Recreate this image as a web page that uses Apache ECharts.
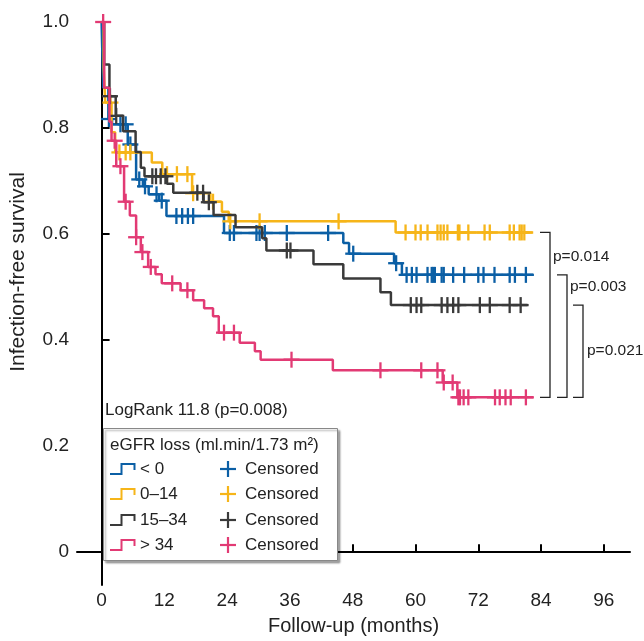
<!DOCTYPE html>
<html>
<head>
<meta charset="utf-8">
<script src="https://cdn.jsdelivr.net/npm/echarts@6/dist/echarts.min.js"></script>
<style>
html, body { margin: 0; padding: 0; background: #fff; }
#chart { width: 644px; height: 641px; }
</style>
</head>
<body>
<div id="chart"></div>
<script>
// axis ticks
var xTicks = [0, 12, 24, 36, 48, 60, 72, 84, 96];
var yTicks = [0, 0.2, 0.4, 0.6, 0.8, 1.0];

// eGFR loss groups
var groupNames = ['< 0', '0–14', '15–34', '> 34'];

// < 0
var blueTimes = [0, 0.3, 1.3, 2.0, 5.0, 6.6, 7.9, 9.0, 11.0, 12.4, 23.4, 46.2, 47.3, 55.9, 57.4, 82.5];
var blueSurv = [1.0, 0.876, 0.817, 0.807, 0.769, 0.703, 0.69, 0.675, 0.663, 0.634, 0.602, 0.583, 0.563, 0.545, 0.523, 0.523];
var blueCens = [1.4, 3.6, 4.6, 5.5, 7.2, 8.3, 10.5, 11.5, 14.3, 15.4, 16.5, 17.5, 24.5, 25.3, 29.6, 30.2, 31.2, 35.4, 43.3, 48.1, 56.3,
    58.3, 59.3, 60.2, 62.3, 63.1, 63.4, 63.7, 65.0, 65.4, 67.2, 69.3, 72.0, 73.0, 75.1, 78.0, 79.0, 81.1];

// 0-14
var yellowTimes = [0, 0.4, 0.7, 1.9, 2.6, 9.6, 11.6, 17.3, 20.8, 23.0, 24.3, 56.2, 82.5];
var yellowSurv = [1.0, 0.914, 0.848, 0.792, 0.754, 0.735, 0.713, 0.677, 0.661, 0.642, 0.624, 0.603, 0.603];
var yellowCens = [1.7, 3.4, 4.6, 5.5, 12.5, 14.4, 16.4, 17.5, 21.3, 24.6, 30.2, 45.3,
    58.1, 60.0, 61.0, 62.3, 64.2, 64.8, 65.4, 66.1, 68.1, 68.4, 70.1, 73.2, 74.2, 78.0, 78.8, 79.9, 80.3, 80.8];

// 15-34
var blackTimes = [0, 0.5, 1.5, 2.7, 4.1, 6.5, 7.5, 8.2, 12.5, 13.7, 19.5, 21.4, 25.6, 30.7, 31.5, 40.5, 46.2, 53.3, 55.3, 81.4];
var blackSurv = [1.0, 0.92, 0.86, 0.823, 0.794, 0.755, 0.725, 0.709, 0.695, 0.678, 0.66, 0.636, 0.613, 0.592, 0.569, 0.543, 0.516, 0.49, 0.466, 0.466];
var blackCens = [1.6, 2.8, 9.7, 10.4, 11.3, 12.2, 18.3, 19.4, 20.5, 35.4, 36.1,
    59.1, 60.2, 61.1, 65.0, 66.1, 67.2, 68.2, 72.3, 74.2, 78.0, 80.1];

// > 34
var pinkTimes = [0, 0.5, 1.5, 1.9, 2.8, 4.3, 5.4, 6.6, 7.5, 8.9, 10.3, 11.5, 15.1, 17.5, 19.6, 21.3, 22.4, 26.4, 29.3, 30.4, 44.2, 65.2, 68.0, 82.5];
var pinkSurv = [1.0, 0.876, 0.812, 0.776, 0.728, 0.661, 0.635, 0.594, 0.566, 0.538, 0.524, 0.507, 0.494, 0.475, 0.46, 0.445, 0.414, 0.395, 0.379, 0.363, 0.343, 0.32, 0.292, 0.292];
var pinkCens = [0.3, 2.5, 3.6, 4.6, 6.6, 7.8, 9.4, 13.5, 16.4, 23.4, 25.3, 36.3, 53.3, 61.1, 64.2, 65.4, 67.1,
    68.2, 68.5, 69.2, 70.1, 75.2, 76.1, 77.2, 78.2, 81.1];

// pairwise comparisons (groups index) and p values
var pairs = [[1, 3], [0, 3], [2, 3]];
var pLabels = ['p=0.014', 'p=0.003', 'p=0.021'];
var logRankText = 'LogRank 11.8 (p=0.008)';
var legendTitle = 'eGFR loss (ml.min/1.73 m²)';

var colors = ['#0b5fa5', '#f6b519', '#3a3a3a', '#e23a74'];
var font = 'Liberation Sans, Arial, sans-serif';

var groups = [
    { t: blueTimes, s: blueSurv, c: blueCens },
    { t: yellowTimes, s: yellowSurv, c: yellowCens },
    { t: blackTimes, s: blackSurv, c: blackCens },
    { t: pinkTimes, s: pinkSurv, c: pinkCens }
];

// survival value of a step curve at time x
function survAt(g, x) {
    var v = g.s[0];
    for (var i = 0; i < g.t.length; i++) {
        if (g.t[i] <= x) v = g.s[i];
    }
    return v;
}

function crossItem(color) {
    return function (params, api) {
        var p = api.coord([api.value(0), api.value(1)]);
        var h = 8;
        return {
            type: 'group',
            children: [
                { type: 'line', shape: { x1: p[0] - h, y1: p[1], x2: p[0] + h, y2: p[1] }, style: { stroke: color, lineWidth: 2.3 } },
                { type: 'line', shape: { x1: p[0], y1: p[1] - h, x2: p[0], y2: p[1] + h }, style: { stroke: color, lineWidth: 2.3 } }
            ]
        };
    };
}

var series = [];
groups.forEach(function (g, k) {
    series.push({
        name: groupNames[k],
        type: 'line',
        step: 'end',
        showSymbol: false,
        data: g.t.map(function (t, i) { return [t, g.s[i]]; }),
        lineStyle: { color: colors[k], width: 2.5 },
        z: 2 + k,
        silent: true
    });
});
groups.forEach(function (g, k) {
    series.push({
        name: groupNames[k] + ' censored',
        type: 'custom',
        renderItem: crossItem(colors[k]),
        data: g.c.map(function (t) { return [t, survAt(g, t)]; }),
        z: 2 + k,
        silent: true
    });
});

var chart = echarts.init(document.getElementById('chart'));
chart.setOption({
    animation: false,
    grid: { left: 77, right: 14, top: 22, bottom: 51 },
    xAxis: {
        type: 'value',
        min: -4.7,
        max: 101,
        name: 'Follow-up (months)',
        nameLocation: 'middle',
        nameGap: 31,
        nameTextStyle: { fontSize: 20, color: '#222', fontFamily: font },
        axisLine: { lineStyle: { color: '#000', width: 2 } },
        axisTick: { inside: true, length: 8, lineStyle: { color: '#000', width: 2 }, customValues: xTicks },
        axisLabel: { customValues: xTicks, fontSize: 19, color: '#222', fontFamily: font, margin: 6 },
        splitLine: { show: false }
    },
    yAxis: {
        type: 'value',
        min: -0.062,
        max: 1.0,
        axisLine: { show: true, lineStyle: { color: '#000', width: 2 } },
        axisTick: { show: true, inside: true, length: 8, lineStyle: { color: '#000', width: 2 }, customValues: yTicks },
        axisLabel: {
            customValues: yTicks, fontSize: 19, color: '#222', fontFamily: font, margin: 8,
            formatter: function (v) { return v === 0 ? '0' : v.toFixed(1); }
        },
        splitLine: { show: false }
    },
    series: series
});

// annotations: brackets, texts, legend
var graphics = [];
var txt = { fill: '#222', fontFamily: font };

graphics.push({
    type: 'text', x: 18, y: 272, rotation: Math.PI / 2,
    style: Object.assign({ text: 'Infection-free survival', fontSize: 21, align: 'center', verticalAlign: 'middle' }, txt),
    z: 10
});

var ends = groups.map(function (g) { return chart.convertToPixel({ seriesIndex: 0 }, [0, g.s[g.s.length - 1]])[1]; });
var bx = [[540, 550, 553, 24], [557, 567, 570, 12], [573, 583, 587, null]];
pairs.forEach(function (pr, i) {
    var y1 = ends[pr[0]], y2 = ends[pr[1]];
    var b = bx[i];
    graphics.push({
        type: 'polyline',
        shape: { points: [[b[0], y1], [b[1], y1], [b[1], y2], [b[0], y2]] },
        style: { stroke: '#222', lineWidth: 1.3, fill: null },
        z: 10
    });
    var ty = b[3] === null ? (y1 + y2) / 2 : y1 + b[3];
    graphics.push({
        type: 'text', x: b[2], y: ty,
        style: Object.assign({ text: pLabels[i], fontSize: 15.5, verticalAlign: 'middle' }, txt),
        z: 10
    });
});

graphics.push({
    type: 'text', x: 105, y: 410,
    style: Object.assign({ text: logRankText, fontSize: 17, verticalAlign: 'middle' }, txt), z: 10
});

// legend box
graphics.push({
    type: 'rect', shape: { x: 103.5, y: 428.5, width: 234, height: 132 },
    style: { fill: '#fff', stroke: '#888', lineWidth: 1, shadowColor: 'rgba(0,0,0,0.35)', shadowOffsetX: 2, shadowOffsetY: 2, shadowBlur: 2 },
    z: 10
});
graphics.push({
    type: 'text', x: 110, y: 445,
    style: Object.assign({ text: legendTitle, fontSize: 17, verticalAlign: 'middle' }, txt), z: 11
});
var rowY = [469, 494, 520, 545];
groupNames.forEach(function (nm, k) {
    var y = rowY[k];
    graphics.push({
        type: 'polyline',
        shape: { points: [[110, y + 5], [121.5, y + 5], [121.5, y - 5], [134.5, y - 5], [134.5, y + 1]] },
        style: { stroke: colors[k], lineWidth: 2, fill: null }, z: 11
    });
    graphics.push({
        type: 'text', x: 140, y: y,
        style: Object.assign({ text: nm, fontSize: 17, verticalAlign: 'middle' }, txt), z: 11
    });
    graphics.push({ type: 'line', shape: { x1: 220, y1: y, x2: 236, y2: y }, style: { stroke: colors[k], lineWidth: 2.2 }, z: 11 });
    graphics.push({ type: 'line', shape: { x1: 228, y1: y - 8, x2: 228, y2: y + 8 }, style: { stroke: colors[k], lineWidth: 2.2 }, z: 11 });
    graphics.push({
        type: 'text', x: 245, y: y,
        style: Object.assign({ text: 'Censored', fontSize: 17, verticalAlign: 'middle' }, txt), z: 11
    });
});

chart.setOption({ graphic: graphics });
</script>
</body>
</html>
